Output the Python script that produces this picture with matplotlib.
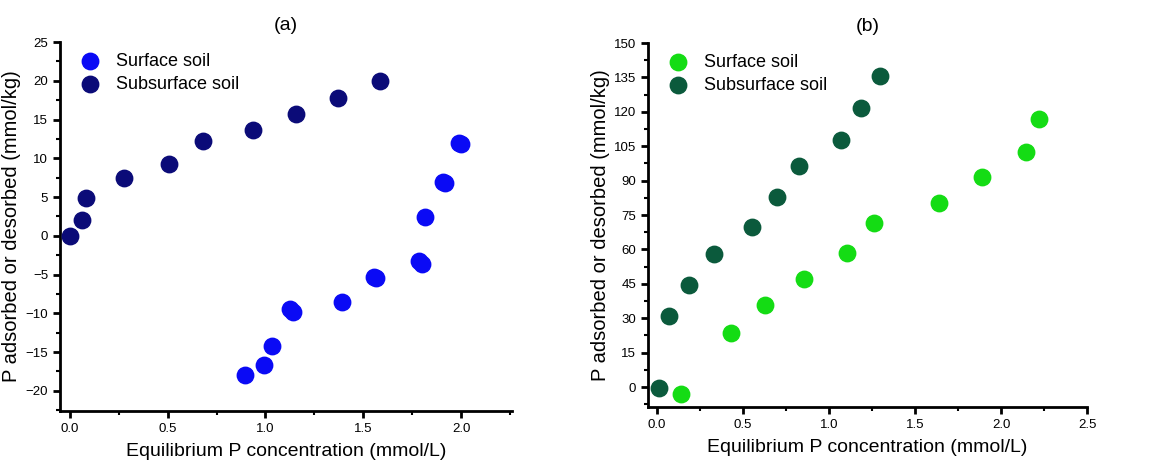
import numpy as np
import matplotlib
matplotlib.use("Agg")
import matplotlib.pyplot as plt
from matplotlib.ticker import MultipleLocator

plt.rcParams['font.family'] = ['Liberation Sans', 'DejaVu Sans']

# (a) values
a_surf_x = [0.898, 0.993, 1.031, 1.123, 1.140, 1.392, 1.557, 1.566, 1.784, 1.800, 1.818, 1.910, 1.917, 1.990, 2.000]
a_surf_y = [-18.0, -16.7, -14.2, -9.4, -9.8, -8.5, -5.3, -5.5, -3.3, -3.6, 2.4, 7.0, 6.8, 12.0, 11.8]
a_sub_x = [0.0, 0.063, 0.082, 0.276, 0.508, 0.681, 0.937, 1.155, 1.373, 1.588]
a_sub_y = [0.0, 2.0, 4.9, 7.4, 9.3, 12.3, 13.7, 15.7, 17.8, 20.0]

# (b) values
b_surf_x = [0.140, 0.428, 0.630, 0.853, 1.105, 1.264, 1.641, 1.888, 2.142, 2.223]
b_surf_y = [-2.9, 23.5, 35.6, 47.2, 58.4, 71.5, 80.2, 91.4, 102.5, 117.0]
b_sub_x = [0.012, 0.070, 0.184, 0.329, 0.554, 0.698, 0.826, 1.070, 1.184, 1.295]
b_sub_y = [-0.4, 30.8, 44.6, 57.8, 69.6, 82.8, 96.4, 107.7, 121.6, 135.5]

labels = ['Surface soil', 'Subsurface soil']
colors_a = ['#0a0af5', '#0b0b78']
colors_b = ['#14dc14', '#0b5a3c']

fig = plt.figure(figsize=(11.74, 4.70), dpi=100)
ax1 = fig.add_axes([0.0511, 0.1255, 0.385, 0.785])
ax2 = fig.add_axes([0.552, 0.134, 0.374, 0.7745])


def style(ax, title, ymajor, yminor, xlim, ylim):
    ax.set_title(title, fontsize=14, pad=9)
    ax.set_xlim(*xlim)
    ax.set_ylim(*ylim)
    ax.spines['top'].set_visible(False)
    ax.spines['right'].set_visible(False)
    ax.spines['left'].set_linewidth(2)
    ax.spines['bottom'].set_linewidth(2)
    ax.xaxis.set_major_locator(MultipleLocator(0.5))
    ax.xaxis.set_minor_locator(MultipleLocator(0.25))
    ax.yaxis.set_major_locator(MultipleLocator(ymajor))
    ax.yaxis.set_minor_locator(MultipleLocator(yminor))
    ax.xaxis.set_major_formatter(matplotlib.ticker.FormatStrFormatter('%.1f'))
    ax.tick_params(which='major', direction='out', length=5, width=2, labelsize=9.5)
    ax.tick_params(which='minor', direction='out', length=3, width=1.5)
    ax.set_xlabel('Equilibrium P concentration (mmol/L)', fontsize=14, labelpad=6)
    ax.set_ylabel('P adsorbed or desorbed (mmol/kg)', fontsize=14.5, labelpad=3)
    ax.legend(loc='upper left', frameon=False, fontsize=13, handlelength=2.1,
              handletextpad=0.4, borderpad=0.3, borderaxespad=0.3, labelspacing=0.35)


ax1.scatter(a_surf_x, a_surf_y, s=140, color=colors_a[0], label=labels[0], zorder=3)
ax1.scatter(a_sub_x, a_sub_y, s=140, color=colors_a[1], label=labels[1], zorder=3)
style(ax1, '(a)', 5, 2.5, (-0.05, 2.26), (-22.6, 25))

ax2.scatter(b_surf_x, b_surf_y, s=140, color=colors_b[0], label=labels[0], zorder=3)
ax2.scatter(b_sub_x, b_sub_y, s=140, color=colors_b[1], label=labels[1], zorder=3)
style(ax2, '(b)', 15, 7.5, (-0.052, 2.5), (-8.7, 150))

fig.savefig('out.png', dpi=100)
